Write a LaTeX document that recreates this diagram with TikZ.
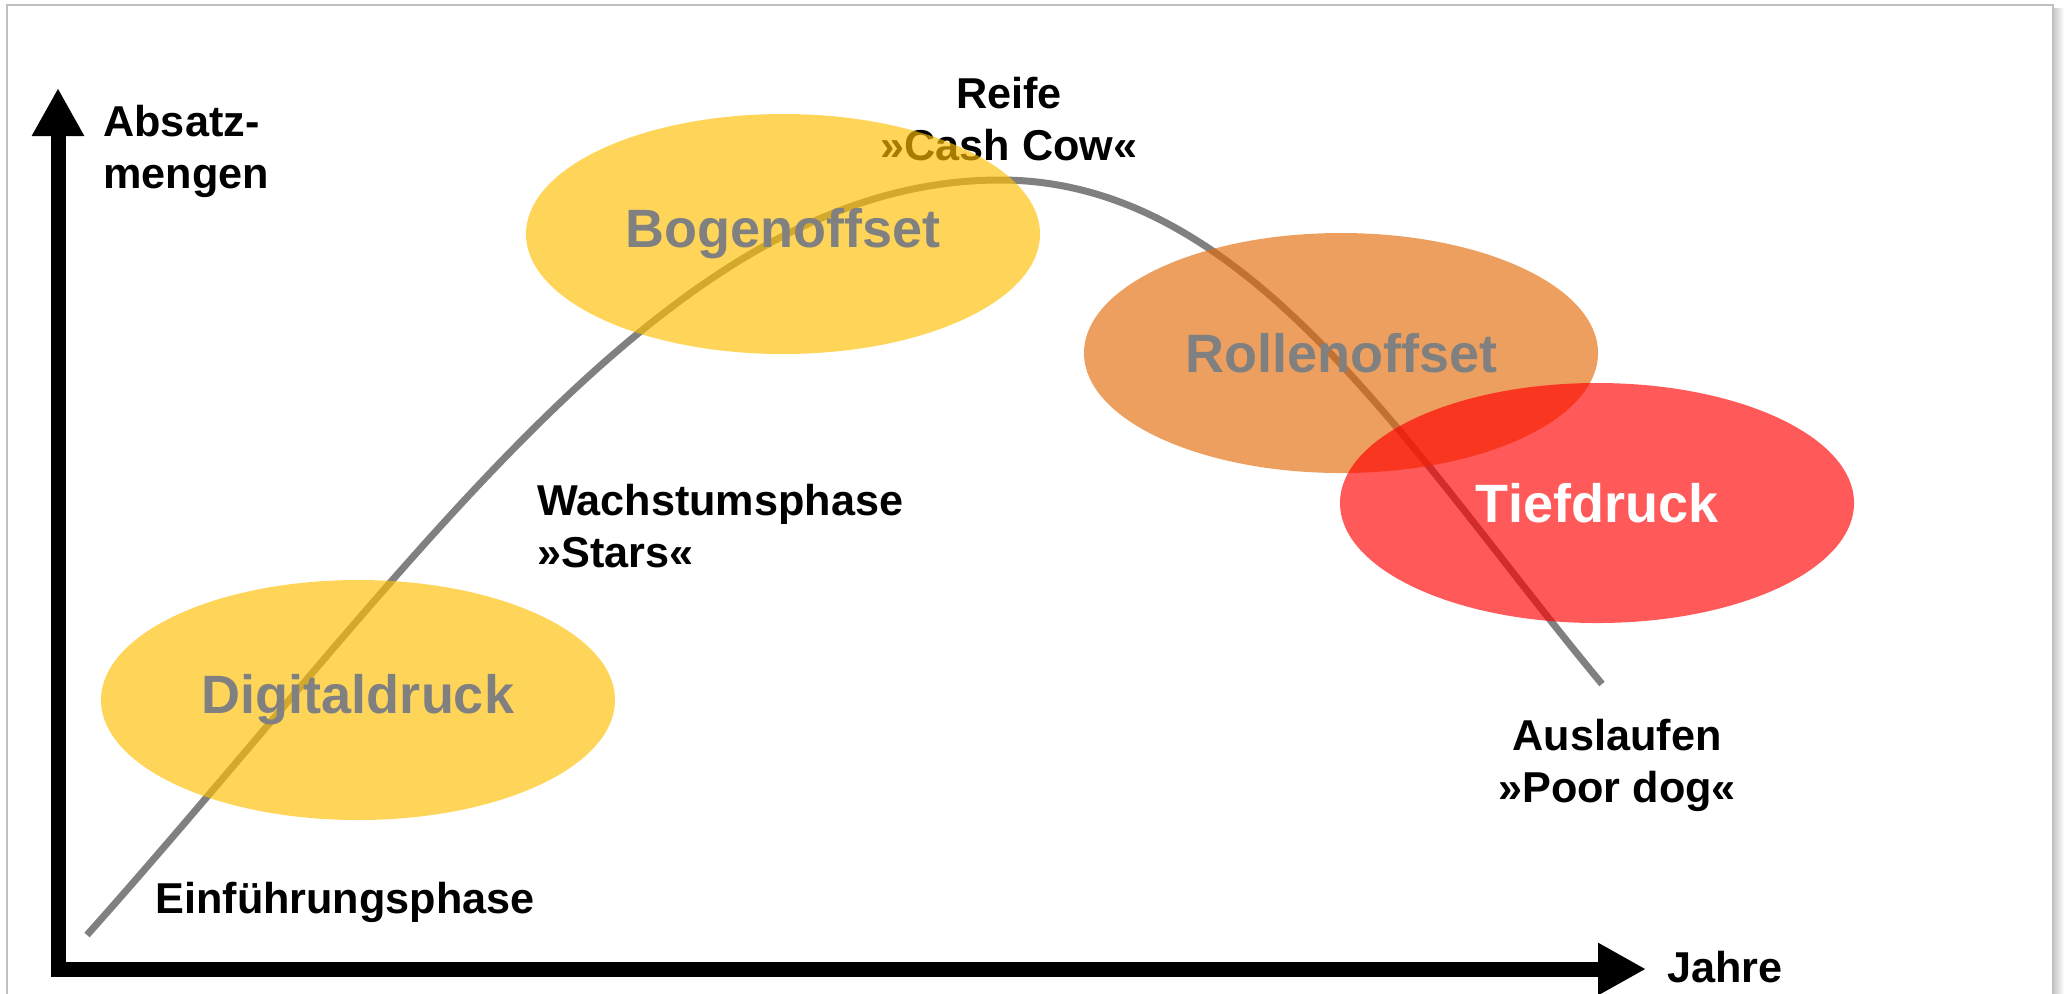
\documentclass[tikz,border=0pt]{standalone}
\usepackage{fontspec}
\setmainfont{Liberation Sans}
\usetikzlibrary{arrows.meta, shapes.geometric}
\definecolor{druckgelb}{RGB}{255,191,0}
\definecolor{druckorange}{RGB}{228,108,10}
\definecolor{druckrot}{RGB}{255,0,0}
\tikzstyle{axis} = [line width=7.5pt, line join=miter, {Triangle[length=24pt,width=24.5pt]}-{Triangle[length=24pt,width=24.5pt]}]
\tikzstyle{curve} = [line width=3.5pt, gray]
\tikzstyle{phase} = [inner sep=0pt, font=\fontsize{21.6}{25.7}\selectfont\bfseries]
\tikzstyle{verfahren} = [ellipse, minimum width=257pt, minimum height=120pt, inner sep=0pt, fill opacity=0.65, text opacity=1, text=gray, font=\fontsize{27}{32}\selectfont\bfseries]

\begin{document}
\begin{tikzpicture}[x=0.5pt, y=-0.5pt]
    \useasboundingbox (0,0) rectangle (2064,993);
    % frame
    \draw[black!25, line width=1pt] (7,1100) -- (7,5) -- (2053,5) -- (2053,1100);
    \shade[left color=black!20, right color=white] (2054,8) rectangle (2064,993);

    % axes
    \coordinate (ytip) at (58,88);
    \coordinate (origin) at (58,969);
    \coordinate (xtip) at (1646,969);
    \draw[axis] (ytip) -- (origin) -- (xtip);

    % phases (base = last line)
    \node[phase, align=left, anchor=base west] (absatz) at (103,188) {Absatz-\\mengen};
    \node[phase, anchor=base west] (jahre) at (1667,982) {Jahre};
    \node[phase, anchor=base west] (einf) at (155,913) {Einführungsphase};
    \node[phase, align=left, anchor=base west] (wachstum) at (537,567) {Wachstumsphase\\»Stars«};
    \node[phase, align=center, anchor=base] (reife) at (1009,160) {Reife\\»Cash Cow«};
    \node[phase, align=center, anchor=base] (auslauf) at (1617,802) {Auslaufen\\»Poor dog«};

    % life cycle
    \coordinate (start) at (87,935);
    \coordinate (peak) at (1000,180);
    \coordinate (ende) at (1602,684);
    \draw[curve] (start) .. controls (417,565) and (670,180) .. (peak)
        .. controls (1250,180) and (1410,453) .. (ende);

    % printing methods
    \node[verfahren, fill=druckgelb] (digital) at (358,700) {Digitaldruck};
    \node[verfahren, fill=druckgelb] (bogen) at (783,234) {Bogenoffset};
    \node[verfahren, fill=druckorange] (rollen) at (1341,353) {Rollenoffset};
    \node[verfahren, fill=druckrot, text=white] (tief) at (1597,503) {Tiefdruck};
\end{tikzpicture}
\end{document}
